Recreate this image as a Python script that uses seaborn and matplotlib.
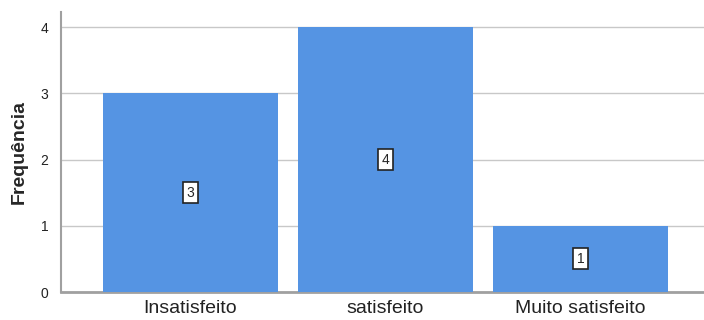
import pandas as pd
import matplotlib
matplotlib.use('Agg')
import matplotlib.pyplot as plt
import seaborn as sns

# dados
categorias = ['Insatisfeito', 'satisfeito', 'Muito satisfeito']
frequencias = [3, 4, 1]

df = pd.DataFrame({'categoria': categorias, 'freq': frequencias})

sns.set_style('white')
plt.rcParams['font.family'] = ['Liberation Sans', 'DejaVu Sans']

fig = plt.figure(figsize=(7.04, 3.2), dpi=100)
ax = fig.add_axes([0.0866, 0.0875, 0.9134, 0.875])

sns.barplot(data=df, x='categoria', y='freq', color='#5594e3', width=0.9,
            saturation=1, linewidth=0, ax=ax, zorder=3)

# rótulos no meio de cada barra
for i, v in enumerate(frequencias):
    ax.text(i, v / 2, str(v), ha='center', va='center', fontsize=10, zorder=5,
            bbox=dict(boxstyle='square,pad=0.25', fc='white', ec='#222222', lw=1.2))

ax.set_xlim(-0.664, 2.633)
ax.set_ylim(0, 4.23)
ax.set_yticks([0, 1, 2, 3, 4])
ax.yaxis.grid(True, color='#c8c8c8', lw=1, zorder=0)
ax.set_axisbelow(True)

ax.set_xlabel('')
ax.set_ylabel('Frequência', fontsize=14, fontweight='bold', labelpad=9)
ax.tick_params(axis='x', labelsize=14, length=0, pad=6, colors='#222222')
ax.tick_params(axis='y', labelsize=10, length=0, pad=9, colors='#222222')

for s in ['top', 'right']:
    ax.spines[s].set_visible(False)
ax.spines['left'].set_color('#a0a0a0')
ax.spines['left'].set_linewidth(1.5)
ax.spines['bottom'].set_color('#a0a0a0')
ax.spines['bottom'].set_linewidth(2)

fig.savefig('out.png', dpi=100)
